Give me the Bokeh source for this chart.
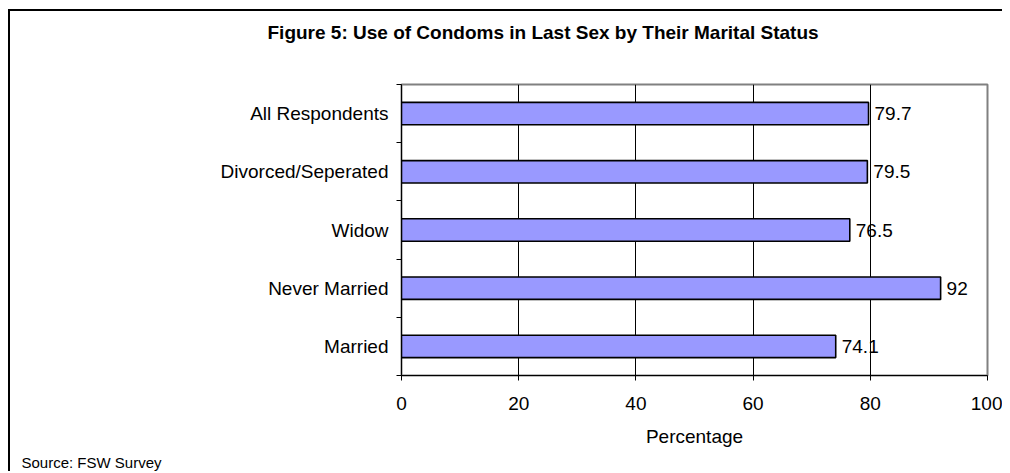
from bokeh.plotting import figure
from bokeh.models import ColumnDataSource, FixedTicker, Range1d, Title
from bokeh.core.properties import value
from bokeh.embed import file_html
from bokeh.resources import INLINE

# ---- data (bottom to top) ----
categories = ["Married", "Never Married", "Widow", "Divorced/Seperated", "All Respondents"]
values = [74.1, 92, 76.5, 79.5, 79.7]
value_labels = ["74.1", "92", "76.5", "79.5", "79.7"]
x_ticks = [0, 20, 40, 60, 80, 100]
title_text = "Figure 5: Use of Condoms in Last Sex by Their Marital Status"
source_text = "Source: FSW Survey"

FONT = "Liberation Sans"

positions = [i + 0.5 for i in range(len(categories))]
src = ColumnDataSource(dict(y=positions, v=values, lab=value_labels, cat=categories))

H = 462
TOP = 73
BOTTOM = 95

p = figure(width=994, height=H, output_backend="svg", toolbar_location=None,
           x_range=Range1d(0, 100), y_range=Range1d(0, len(categories)),
           min_border_left=391, min_border_right=17, min_border_top=TOP, min_border_bottom=BOTTOM,
           background_fill_color="white", border_fill_color="white",
           styles={"border-left": "2px solid #000", "border-top": "2px solid #000",
                   "box-sizing": "border-box", "margin-left": "8px", "margin-top": "9px"})

# spacer between frame and title, then the title itself
p.add_layout(Title(text=" ", standoff=29, text_font=FONT, text_font_size="10px"), "above")
p.add_layout(Title(text=title_text, align="left", offset=-134, standoff=0,
                   text_font=FONT, text_font_size="19px", text_font_style="bold",
                   text_color="black"), "above")

p.hbar(y="y", right="v", left=0, height=0.385, source=src,
       fill_color="#9999FF", line_color="black", line_width=1.6)

p.text(x="v", y="y", text="lab", source=src, x_offset=6,
       text_align="left", text_baseline="middle",
       text_font_size="19px", text_color="black", text_font=value(FONT))

# x axis
p.xaxis.ticker = FixedTicker(ticks=x_ticks)
p.xaxis.axis_label = "Percentage"
p.xaxis.axis_label_text_font = FONT
p.xaxis.axis_label_text_font_size = "19px"
p.xaxis.axis_label_text_font_style = "normal"
p.xaxis.axis_label_text_color = "black"
p.xaxis.axis_label_standoff = 13
p.xaxis.major_label_text_font = FONT
p.xaxis.major_label_text_font_size = "19px"
p.xaxis.major_label_text_color = "black"
p.xaxis.major_label_standoff = 16
p.xaxis.major_tick_out = 5
p.xaxis.major_tick_in = 0
p.xaxis.minor_tick_out = 0
p.xaxis.minor_tick_in = 0
p.xaxis.axis_line_color = "black"
p.xaxis.major_tick_line_color = "black"

# y axis: labels at category centres, ticks at boundaries
p.yaxis.ticker = FixedTicker(ticks=positions,
                             minor_ticks=list(range(len(categories) + 1)))
p.yaxis.major_label_overrides = {pos: c for pos, c in zip(positions, categories)}
p.yaxis.major_label_text_font = FONT
p.yaxis.major_label_text_font_size = "19px"
p.yaxis.major_label_text_color = "black"
p.yaxis.major_label_standoff = 8
p.yaxis.major_tick_out = 0
p.yaxis.major_tick_in = 0
p.yaxis.minor_tick_out = 5
p.yaxis.minor_tick_in = 0
p.yaxis.minor_tick_line_color = "black"
p.yaxis.axis_line_color = "black"

p.xgrid.ticker = FixedTicker(ticks=x_ticks)
p.xgrid.grid_line_color = "black"
p.xgrid.grid_line_width = 1
p.ygrid.grid_line_color = None

p.outline_line_color = "#808080"
p.outline_line_width = 2

p.add_layout(Title(text=source_text, align="left", offset=-380, standoff=5,
                   text_font=FONT, text_font_size="15px", text_font_style="normal",
                   text_color="black"), "below")

open("out.html", "w").write(file_html(p, INLINE))
